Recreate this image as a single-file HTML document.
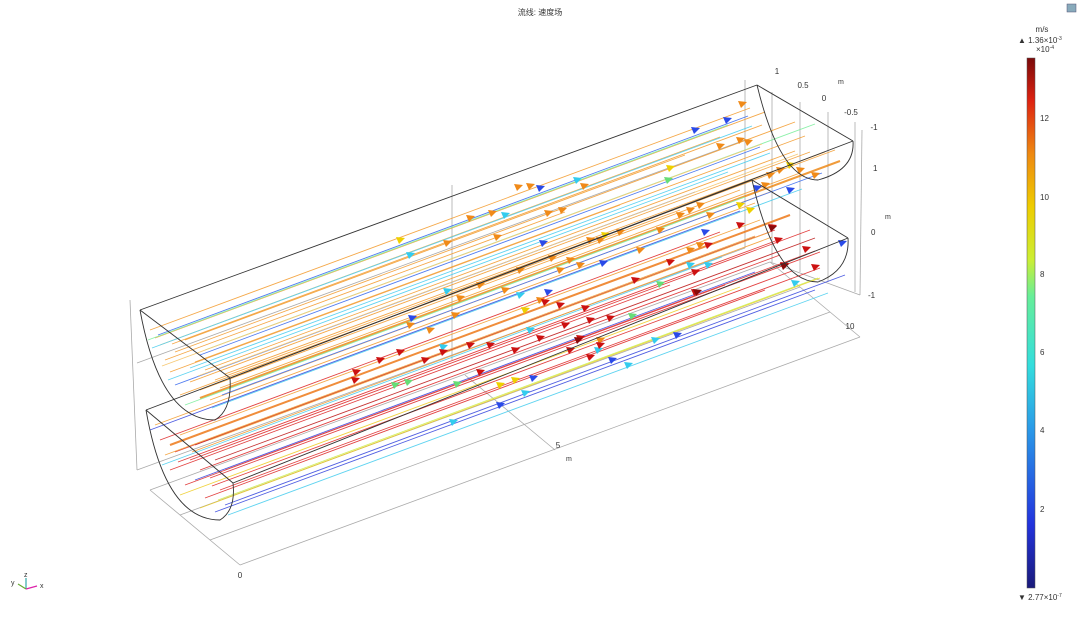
<!DOCTYPE html>
<html><head><meta charset="utf-8"><style>
html,body{margin:0;padding:0;background:#fff;width:1080px;height:618px;overflow:hidden}
svg text{font-family:"Liberation Sans","Noto Sans CJK SC",sans-serif;fill:#333}
</style></head><body>
<svg width="1080" height="618" viewBox="0 0 1080 618" xmlns="http://www.w3.org/2000/svg">
<defs>
<linearGradient id="jet" x1="0" y1="1" x2="0" y2="0">
<stop offset="0" stop-color="#1a1a7a"/><stop offset="0.12" stop-color="#2233dd"/>
<stop offset="0.3" stop-color="#2a9ae8"/><stop offset="0.42" stop-color="#33dddd"/>
<stop offset="0.55" stop-color="#66ee99"/><stop offset="0.62" stop-color="#ccee33"/>
<stop offset="0.72" stop-color="#eecc00"/><stop offset="0.82" stop-color="#ee8811"/>
<stop offset="0.92" stop-color="#dd2211"/><stop offset="1" stop-color="#7a0a0a"/>
</linearGradient>
<path id="a" d="M-4 -3 L5 -2 L-1 4 Z"/>
</defs>
<text x="540" y="15" font-size="8" text-anchor="middle">流线: 速度场</text>
<g stroke="#aaa" stroke-width="0.8" fill="none">
<line x1="150" y1="490" x2="240" y2="565"/>
<line x1="240" y1="565" x2="860" y2="337"/>
<line x1="150" y1="490" x2="770" y2="262"/>
<line x1="180" y1="515" x2="800" y2="287"/>
<line x1="210" y1="540" x2="830" y2="312"/>
<line x1="860" y1="337" x2="770" y2="262"/>
<line x1="555" y1="450" x2="465" y2="375"/>
<line x1="137" y1="470" x2="130" y2="300"/>
<line x1="137" y1="470" x2="745" y2="248"/>
<line x1="137" y1="363" x2="745" y2="140"/>
<line x1="860" y1="295" x2="862" y2="130"/>
<line x1="860" y1="295" x2="770" y2="262"/>
<line x1="745" y1="248" x2="745" y2="80"/>
<line x1="772" y1="262" x2="772" y2="92"/>
<line x1="800" y1="272" x2="800" y2="102"/>
<line x1="828" y1="282" x2="828" y2="112"/>
<line x1="855" y1="292" x2="855" y2="122"/>
<line x1="452" y1="360" x2="452" y2="185"/>
</g>
<g fill="none" stroke-width="0.9" opacity="0.85">
<path stroke="#f39a2a" d="M150 330 l600 -222 M160 345 l560 -208 M175 352 l620 -230 M185 340 l500 -185 M195 362 l610 -226 M205 370 l590 -219 M170 372 l450 -167 M215 380 l620 -230 M200 390 l540 -200 M220 388 l580 -215 M165 360 l400 -148 M190 382 l620 -230 M225 374 l600 -222 M180 395 l500 -185 M210 400 l560 -208 M155 338 l610 -226 M172 344 l590 -219"/>
<path stroke="#ee8a1a" stroke-width="2" d="M200 398 l640 -237"/>
<path stroke="#3366ee" d="M158 335 l590 -219 M200 355 l560 -208 M175 385 l520 -193 M222 395 l600 -222"/>
<path stroke="#44ccee" d="M152 348 l600 -222 M190 368 l580 -215 M212 408 l590 -219 M168 380 l560 -208"/>
<path stroke="#77ee99" d="M148 340 l580 -215 M205 350 l610 -226 M185 405 l560 -208"/>
<path stroke="#f5c060" d="M162 366 l600 -222 M198 376 l600 -222"/>
<path stroke="#dd2222" d="M160 440 l560 -208 M175 452 l600 -222 M190 460 l620 -230 M200 470 l580 -215 M210 478 l610 -226 M220 490 l600 -222 M185 485 l540 -200 M205 498 l560 -208 M170 470 l500 -185 M225 470 l590 -219 M178 462 l600 -222 M212 486 l580 -215"/>
<path stroke="#bb1111" d="M195 445 l560 -208 M215 460 l600 -222"/>
<path stroke="#f39a2a" d="M155 425 l600 -222 M180 435 l580 -215 M165 455 l590 -219 M210 440 l560 -208 M192 452 l580 -215"/>
<path stroke="#ee7a1a" stroke-width="2" d="M170 445 l620 -230"/>
<path stroke="#3344dd" d="M150 430 l590 -219 M225 505 l620 -230 M215 512 l600 -222 M195 480 l560 -208"/>
<path stroke="#eecc22" d="M200 508 l620 -230 M180 495 l560 -208"/>
<path stroke="#ccee44" d="M218 500 l600 -222"/>
<path stroke="#44ccee" d="M162 465 l560 -208 M228 515 l600 -222"/>
</g>
<g fill="#f08a18">
<use href="#a" x="742" y="104"/><use href="#a" x="720" y="146"/><use href="#a" x="740" y="140"/><use href="#a" x="748" y="142"/><use href="#a" x="518" y="187"/><use href="#a" x="530" y="186"/><use href="#a" x="584" y="186"/><use href="#a" x="470" y="218"/><use href="#a" x="492" y="213"/><use href="#a" x="548" y="213"/><use href="#a" x="562" y="210"/><use href="#a" x="447" y="243"/><use href="#a" x="497" y="237"/><use href="#a" x="590" y="240"/><use href="#a" x="600" y="240"/><use href="#a" x="570" y="260"/><use href="#a" x="552" y="258"/><use href="#a" x="580" y="265"/><use href="#a" x="640" y="250"/><use href="#a" x="660" y="230"/><use href="#a" x="690" y="210"/><use href="#a" x="700" y="205"/><use href="#a" x="710" y="215"/><use href="#a" x="680" y="215"/><use href="#a" x="770" y="175"/><use href="#a" x="780" y="170"/><use href="#a" x="800" y="170"/><use href="#a" x="815" y="175"/><use href="#a" x="765" y="185"/><use href="#a" x="460" y="298"/><use href="#a" x="480" y="285"/><use href="#a" x="505" y="290"/><use href="#a" x="540" y="300"/><use href="#a" x="410" y="325"/><use href="#a" x="430" y="330"/><use href="#a" x="455" y="315"/><use href="#a" x="600" y="340"/><use href="#a" x="700" y="245"/><use href="#a" x="690" y="250"/><use href="#a" x="520" y="270"/><use href="#a" x="560" y="270"/><use href="#a" x="620" y="232"/>
</g>
<g fill="#eed000">
<use href="#a" x="400" y="240"/><use href="#a" x="605" y="235"/><use href="#a" x="670" y="168"/><use href="#a" x="750" y="210"/><use href="#a" x="790" y="165"/><use href="#a" x="525" y="310"/><use href="#a" x="500" y="385"/><use href="#a" x="515" y="380"/><use href="#a" x="740" y="205"/>
</g>
<g fill="#2a4ae8">
<use href="#a" x="695" y="130"/><use href="#a" x="727" y="120"/><use href="#a" x="540" y="188"/><use href="#a" x="543" y="243"/><use href="#a" x="705" y="232"/><use href="#a" x="548" y="292"/><use href="#a" x="412" y="318"/><use href="#a" x="790" y="190"/><use href="#a" x="757" y="188"/><use href="#a" x="533" y="378"/><use href="#a" x="500" y="405"/><use href="#a" x="612" y="360"/><use href="#a" x="677" y="335"/><use href="#a" x="842" y="243"/><use href="#a" x="603" y="263"/>
</g>
<g fill="#33ccee">
<use href="#a" x="410" y="255"/><use href="#a" x="577" y="180"/><use href="#a" x="505" y="215"/><use href="#a" x="520" y="295"/><use href="#a" x="447" y="291"/><use href="#a" x="690" y="265"/><use href="#a" x="443" y="347"/><use href="#a" x="598" y="350"/><use href="#a" x="655" y="340"/><use href="#a" x="628" y="365"/><use href="#a" x="453" y="422"/><use href="#a" x="525" y="393"/><use href="#a" x="795" y="283"/><use href="#a" x="708" y="265"/><use href="#a" x="530" y="330"/>
</g>
<g fill="#66dd77">
<use href="#a" x="395" y="385"/><use href="#a" x="408" y="382"/><use href="#a" x="457" y="384"/><use href="#a" x="632" y="316"/><use href="#a" x="668" y="180"/><use href="#a" x="660" y="284"/>
</g>
<g fill="#cc1111">
<use href="#a" x="356" y="372"/><use href="#a" x="380" y="360"/><use href="#a" x="400" y="352"/><use href="#a" x="425" y="360"/><use href="#a" x="443" y="352"/><use href="#a" x="470" y="345"/><use href="#a" x="490" y="345"/><use href="#a" x="515" y="350"/><use href="#a" x="540" y="338"/><use href="#a" x="565" y="325"/><use href="#a" x="580" y="338"/><use href="#a" x="590" y="320"/><use href="#a" x="610" y="318"/><use href="#a" x="570" y="350"/><use href="#a" x="590" y="357"/><use href="#a" x="635" y="280"/><use href="#a" x="670" y="262"/><use href="#a" x="695" y="272"/><use href="#a" x="708" y="245"/><use href="#a" x="740" y="225"/><use href="#a" x="772" y="227"/><use href="#a" x="778" y="240"/><use href="#a" x="806" y="249"/><use href="#a" x="784" y="265"/><use href="#a" x="815" y="267"/><use href="#a" x="695" y="292"/><use href="#a" x="545" y="302"/><use href="#a" x="585" y="308"/><use href="#a" x="480" y="372"/><use href="#a" x="600" y="345"/><use href="#a" x="355" y="380"/><use href="#a" x="560" y="305"/>
</g>
<g fill="#8a0a0a">
<use href="#a" x="578" y="340"/><use href="#a" x="697" y="292"/><use href="#a" x="772" y="228"/><use href="#a" x="784" y="266"/>
</g>
<g stroke="#333" stroke-width="0.9" fill="none">
<line x1="140" y1="310" x2="757" y2="85"/>
<line x1="230" y1="378" x2="853" y2="141"/>
<line x1="140" y1="310" x2="230" y2="378"/>
<line x1="757" y1="85" x2="853" y2="141"/>
<path d="M140 310 Q160 420 215 420 Q232 410 230 378"/>
<path d="M757 85 Q780 180 818 180 Q855 170 853 141"/>
<line x1="146" y1="410" x2="752" y2="180"/>
<line x1="233" y1="483" x2="848" y2="238"/>
<line x1="146" y1="410" x2="233" y2="483"/>
<line x1="752" y1="180" x2="848" y2="238"/>
<path d="M146 410 Q165 520 220 520 Q236 510 233 483"/>
<path d="M752 180 Q775 282 818 282 Q850 270 848 238"/>
</g>
<g font-size="8">
<text x="240" y="578" text-anchor="middle">0</text>
<text x="558" y="448" text-anchor="middle">5</text>
<text x="850" y="329" text-anchor="middle">10</text>
<text x="566" y="461" font-size="7">m</text>
<text x="777" y="74" text-anchor="middle">1</text>
<text x="803" y="88" text-anchor="middle">0.5</text>
<text x="824" y="101" text-anchor="middle">0</text>
<text x="851" y="115" text-anchor="middle">-0.5</text>
<text x="874" y="130" text-anchor="middle">-1</text>
<text x="838" y="84" font-size="7">m</text>
<text x="873" y="171">1</text>
<text x="871" y="235">0</text>
<text x="868" y="298">-1</text>
<text x="885" y="219" font-size="7">m</text>
</g>
<rect x="1027" y="58" width="8" height="530" fill="url(#jet)" stroke="#555" stroke-width="0.5"/>
<g font-size="8">
<text x="1042" y="32" text-anchor="middle">m/s</text>
<text x="1018" y="43">▲ 1.36×10<tspan font-size="5" dy="-3">-3</tspan></text>
<text x="1036" y="52">×10<tspan font-size="5" dy="-3">-4</tspan></text>
<text x="1040" y="121">12</text><text x="1040" y="200">10</text>
<text x="1040" y="277">8</text><text x="1040" y="355">6</text>
<text x="1040" y="433">4</text><text x="1040" y="512">2</text>
<text x="1018" y="600">▼ 2.77×10<tspan font-size="5" dy="-3">-7</tspan></text>
</g>
<rect x="1067" y="4" width="9" height="8" fill="#8ab" stroke="#557" stroke-width="0.5"/>
<g stroke-width="1.2">
<line x1="26" y1="589" x2="26" y2="578" stroke="#3aa"/>
<line x1="26" y1="589" x2="37" y2="586" stroke="#d2a"/>
<line x1="26" y1="589" x2="18" y2="584" stroke="#6a3"/>
</g>
<g font-size="7"><text x="24" y="577">z</text><text x="40" y="588">x</text><text x="11" y="585">y</text></g>
</svg>
</body></html>
